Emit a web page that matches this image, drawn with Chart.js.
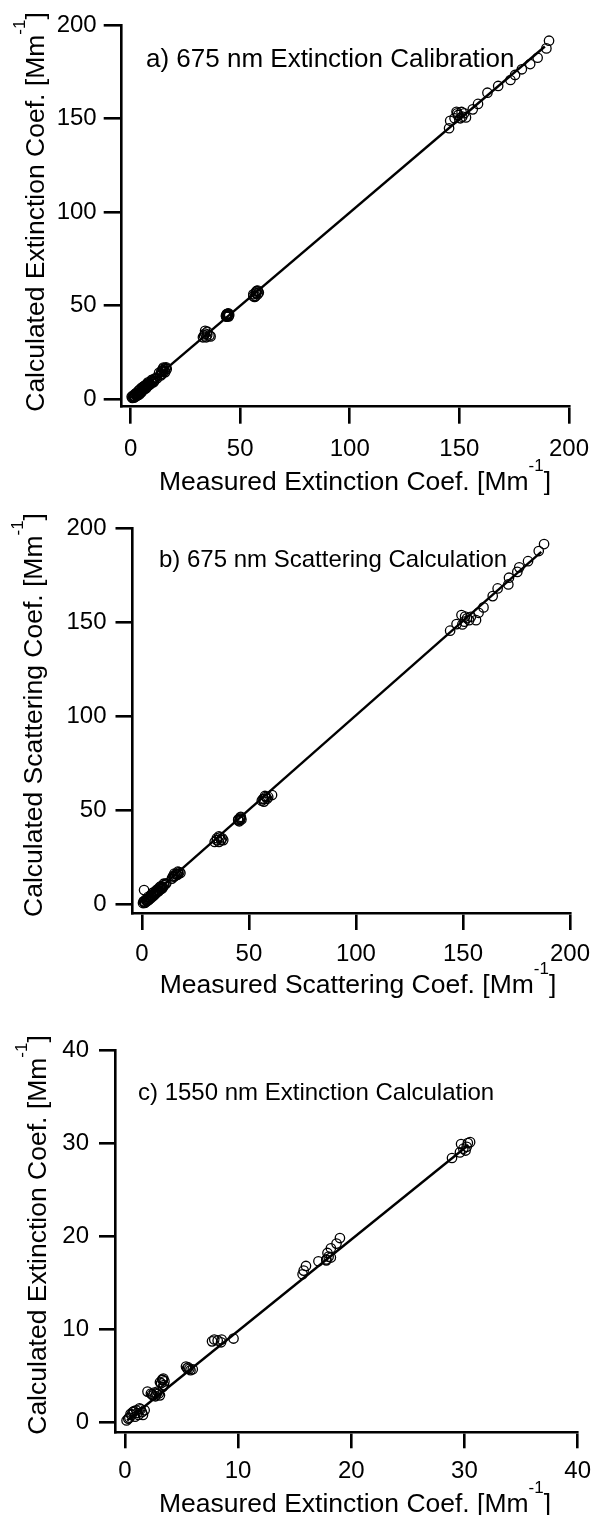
<!DOCTYPE html>
<html>
<head>
<meta charset="utf-8">
<script src="https://cdn.jsdelivr.net/npm/chart.js@4.4.0/dist/chart.umd.min.js"></script>
<style>
  html, body { margin: 0; padding: 0; background: #fff; }
  #wrap { position: relative; width: 600px; height: 1515px; }
  canvas { position: absolute; left: 0; }
</style>
</head>
<body>
<div id="wrap">
  <canvas id="chartA" width="600" height="498" style="top:0px"></canvas>
  <canvas id="chartB" width="600" height="502" style="top:498px"></canvas>
  <canvas id="chartC" width="600" height="515" style="top:1000px"></canvas>
</div>
<script>
// a) 675 nm extinction calibration: measured vs calculated
const measA = [0.8, 1.2, 1.5, 2.0, 2.3, 2.8, 3.0, 3.3, 3.8, 4.0, 4.3, 4.8, 5.0, 5.4, 5.8, 6.2, 6.5, 7.0, 7.3, 7.8,
  8.2, 8.6, 9.0, 9.4, 9.8, 10.2, 10.8, 11.4, 12.0, 1.0, 2.5, 5.0, 6.8, 3.5,
  0.5, 1.8, 2.2, 3.6, 4.5, 5.2, 6.0, 7.5, 8.8, 9.6, 10.5, 11.0, 2.9, 4.1, 6.4, 8.0, 1.4, 3.2, 5.6, 7.1,
  13.5, 14.0, 15.0, 16.0, 15.5, 14.5, 16.5, 13.0, 15.0, 14.2, 15.8, 16.2, 13.8, 14.8,
  33.0, 34.0, 35.0, 36.0, 36.5, 34.5, 33.5, 35.0, 34.0,
  43.5, 44.0, 44.5, 44.0, 45.0, 43.8, 44.3, 44.8, 43.6, 44.6, 44.1,
  56.0, 57.0, 58.0, 57.0, 58.5, 56.0, 58.0, 57.5, 56.6, 57.3,
  145.3, 145.8, 148.7, 149.5, 151.3, 152.2, 150.4, 147.8, 153.0, 149.0, 151.0,
  156.1, 158.5, 162.8, 167.7, 173.3, 175.4, 178.5, 182.3, 185.7, 189.7, 190.9];
const calcA = [0.6, 1.0, 1.6, 1.3, 2.0, 2.5, 1.8, 3.0, 3.2, 2.4, 4.0, 4.1, 3.6, 5.2, 4.8, 6.0, 5.4, 6.8, 6.2, 7.6,
  7.3, 8.4, 8.0, 9.4, 8.8, 10.0, 9.6, 11.2, 11.0, 1.8, 3.2, 6.0, 7.5, 2.4,
  1.2, 0.9, 2.8, 4.4, 3.4, 4.2, 6.8, 8.2, 7.8, 10.2, 9.0, 10.8, 1.9, 5.0, 7.0, 8.9, 0.8, 2.2, 6.4, 5.8,
  13.0, 14.5, 15.5, 16.5, 15.0, 13.5, 16.0, 14.0, 16.8, 15.2, 14.4, 17.0, 12.6, 16.2,
  33.0, 35.0, 36.0, 34.0, 33.5, 33.0, 34.0, 34.5, 36.5,
  44.5, 45.0, 45.5, 44.0, 45.0, 45.3, 44.6, 44.2, 44.1, 45.8, 45.6,
  56.0, 57.0, 58.0, 55.0, 57.0, 55.0, 56.0, 57.8, 54.6, 56.5,
  144.8, 148.8, 153.6, 151.9, 151.0, 152.8, 150.1, 150.1, 150.6, 152.8, 153.5,
  154.9, 157.8, 163.8, 167.4, 170.6, 173.3, 176.3, 179.1, 182.5, 187.5, 191.6];
const fitAx = [0.5, 189];
const fitAy = [0.5, 188.5];

// b) 675 nm scattering calculation
const measB = [0.5, 1.0, 1.5, 2.0, 2.4, 2.8, 3.2, 3.6, 4.0, 4.4, 4.8, 5.2, 5.6, 6.0, 6.4, 6.8, 7.2, 7.6, 8.0, 8.5,
  9.0, 9.4, 9.8, 10.4, 11.0, 11.4, 3.0, 5.0, 1.0,
  0.8, 1.8, 2.6, 3.4, 4.2, 5.4, 6.2, 7.0, 7.8, 8.8, 9.6, 10.2, 1.3, 4.6, 6.6, 8.2,
  14.0, 15.0, 16.0, 17.0, 18.0, 15.5, 16.5, 14.5, 17.5, 15.2, 16.8,
  34.0, 35.0, 36.0, 37.0, 38.0, 36.0, 35.0, 37.5, 36.5,
  45.0, 45.5, 46.0, 46.5, 45.0, 46.0, 45.8, 46.2,
  56.0, 57.0, 58.0, 57.0, 58.5, 60.8, 59.0, 57.5, 56.5,
  144.0, 147.0, 149.3, 149.7, 150.7, 151.9, 152.9, 153.7, 156.1, 151.0,
  157.3, 159.6, 163.9, 166.2, 171.2, 171.5, 175.4, 176.3, 180.4, 185.4, 187.9];
const calcB = [0.5, 1.2, 0.8, 1.8, 1.5, 2.6, 2.2, 3.4, 3.0, 4.2, 3.8, 5.0, 4.6, 5.8, 5.6, 6.6, 6.4, 7.4, 7.2, 8.2,
  8.0, 9.2, 9.0, 10.0, 10.6, 11.0, 3.8, 5.8, 7.4,
  1.4, 2.4, 1.9, 2.8, 4.8, 6.2, 5.2, 7.6, 6.8, 9.4, 8.4, 10.8, 0.6, 4.0, 7.0, 8.8,
  13.5, 14.5, 16.0, 16.0, 16.5, 15.0, 15.5, 14.8, 17.0, 16.2, 17.2,
  33.0, 35.0, 36.0, 34.0, 34.0, 33.0, 34.0, 35.0, 35.5,
  45.0, 44.0, 46.0, 45.0, 44.5, 45.5, 44.8, 46.4,
  55.0, 56.0, 57.0, 54.5, 56.0, 58.0, 57.0, 57.5, 55.8,
  145.5, 149.0, 153.8, 148.8, 150.3, 152.1, 151.1, 152.9, 151.1, 153.0,
  155.0, 157.9, 163.9, 168.0, 170.1, 173.7, 176.8, 179.2, 182.5, 187.9, 191.6];
const fitBx = [0.5, 186.6];
const fitBy = [0.5, 187.5];

// c) 1550 nm extinction calculation
const measC = [0.15, 0.6, 1.0, 1.5, 1.2, 1.6, 0.7, 0.9, 1.75, 1.3, 0.4, 1.1, 0.5, 0.8, 1.4, 0.3,
  2.0, 2.5, 2.8, 3.1, 2.3, 2.9, 2.6, 3.0, 2.7, 2.4,
  3.35, 3.2, 3.5, 3.35, 3.4, 3.1, 3.45, 3.3,
  5.5, 5.8, 5.4, 5.6, 6.0, 5.7,
  9.6, 7.7, 8.2, 8.5, 8.55, 7.9,
  15.7, 16.0, 15.8, 17.1, 17.8, 17.9, 18.2, 18.7, 19.0, 18.0, 18.2, 17.8,
  28.9, 29.6, 29.7, 30.1, 30.2, 30.3, 30.5, 29.9];
const calcC = [0.2, 0.8, 1.3, 1.1, 0.8, 0.8, 1.1, 0.6, 1.3, 1.5, 0.5, 1.0, 0.9, 1.2, 1.4, 0.4,
  3.3, 2.9, 3.1, 2.9, 3.1, 3.3, 3.2, 3.1, 2.8, 3.0,
  4.55, 4.2, 4.4, 3.8, 4.7, 4.3, 4.0, 4.6,
  5.8, 5.6, 6.0, 5.9, 5.7, 5.75,
  9.0, 8.7, 8.8, 8.6, 8.9, 8.9,
  15.9, 16.8, 16.3, 17.3, 17.5, 18.2, 18.7, 19.2, 19.8, 17.8, 17.7, 17.4,
  28.4, 29.0, 29.9, 29.2, 29.6, 30.0, 30.1, 29.4];
const fitCx = [0.2, 30.35];
const fitCy = [0.2, 29.8];

// tick labels
const ticks200 = [0, 50, 100, 150, 200];
const ticks40 = [0, 10, 20, 30, 40];

const FONT = "'Liberation Sans', Arial, Helvetica, sans-serif";
Chart.defaults.font.family = FONT;
Chart.defaults.color = '#000';

// draws text with a raised "-1" before the closing bracket
function drawSupTitle(ctx, t) {
  const big = t.size + 'px ' + FONT;
  const small = Math.round(t.size * 0.65) + 'px ' + FONT;
  ctx.save();
  ctx.translate(t.x, t.y);
  if (t.rotate) ctx.rotate(-Math.PI / 2);
  ctx.textAlign = 'left';
  ctx.textBaseline = 'alphabetic';
  ctx.font = big;
  const w1 = ctx.measureText(t.text).width;
  const w3 = ctx.measureText(']').width;
  ctx.font = small;
  const w2 = ctx.measureText('-1').width;
  let x = -(w1 + w2 + w3) / 2;
  ctx.font = big;
  ctx.fillText(t.text, x, 0);
  x += w1;
  ctx.font = small;
  ctx.fillText('-1', x, -t.size * 0.72);
  x += w2;
  ctx.font = big;
  ctx.fillText(']', x, 0);
  ctx.restore();
}

const panelText = {
  id: 'panelText',
  afterDraw(chart, args, opts) {
    const ctx = chart.ctx;
    ctx.save();
    ctx.fillStyle = '#000';
    ctx.font = opts.note.size + 'px ' + FONT;
    ctx.textAlign = 'left';
    ctx.textBaseline = 'alphabetic';
    ctx.fillText(opts.note.text, opts.note.x, opts.note.y);
    drawSupTitle(ctx, opts.xTitle);
    drawSupTitle(ctx, opts.yTitle);
    ctx.restore();
  }
};

function axis(min, max, vals, tickLen, pad, fit) {
  return {
    type: 'linear',
    min: min,
    max: max,
    afterBuildTicks: s => { s.ticks = vals.map(v => ({ value: v })); },
    afterFit: fit,
    border: { display: true, color: '#000', width: 2.6 },
    grid: { drawOnChartArea: false, drawTicks: true, tickLength: tickLen, color: '#000', lineWidth: 2.6 },
    ticks: { padding: pad, font: { size: 24 }, color: '#000', callback: v => String(v) },
    title: { display: false }
  };
}

function makePanel(id, p) {
  const canvas = document.getElementById(id);
  const H = canvas.height;
  return new Chart(canvas, {
    type: 'scatter',
    data: {
      datasets: [
        {
          data: p.x.map((v, i) => ({ x: v, y: p.y[i] })),
          pointStyle: 'circle',
          pointRadius: 4.7,
          pointBorderWidth: 1.3,
          pointBorderColor: '#000',
          pointBackgroundColor: 'rgba(0,0,0,0)'
        },
        {
          data: p.fitX.map((v, i) => ({ x: v, y: p.fitY[i] })),
          showLine: true,
          pointRadius: 0,
          borderColor: '#000',
          borderWidth: 2.4
        }
      ]
    },
    options: {
      responsive: false,
      animation: false,
      layout: { padding: { left: 0, top: p.area.top, right: 600 - p.area.right, bottom: 0 } },
      plugins: {
        legend: { display: false },
        tooltip: { enabled: false },
        panelText: p.text
      },
      scales: {
        x: axis(p.xMin, p.xMax, p.ticks, p.xTick, p.xPad, s => { s.height = H - p.area.bottom; }),
        y: axis(p.yMin, p.yMax, p.ticks, p.yTick, p.yPad, s => { s.width = p.area.left; })
      }
    },
    plugins: [panelText]
  });
}

makePanel('chartA', {
  x: measA, y: calcA, fitX: fitAx, fitY: fitAy, ticks: ticks200,
  area: { left: 121.7, top: 25, right: 574.7, bottom: 406.7 },
  xMin: -4.05, xMax: 200, yMin: -4.1, yMax: 200,
  xTick: 17, xPad: 11, yTick: 18, yPad: 7,
  text: {
    note: { text: 'a) 675 nm Extinction Calibration', size: 26, x: 146, y: 67 },
    xTitle: { text: 'Measured Extinction Coef. [Mm', size: 26.5, x: 355, y: 490 },
    yTitle: { text: 'Calculated Extinction Coef. [Mm', size: 26.5, x: 44, y: 212, rotate: true }
  }
});

makePanel('chartB', {
  x: measB, y: calcB, fitX: fitBx, fitY: fitBy, ticks: ticks200,
  area: { left: 132.5, top: 30.3, right: 574, bottom: 415 },
  xMin: -4.4, xMax: 200, yMin: -4.8, yMax: 200,
  xTick: 17, xPad: 10, yTick: 17, yPad: 9,
  text: {
    note: { text: 'b) 675 nm Scattering Calculation', size: 24, x: 159, y: 69 },
    xTitle: { text: 'Measured Scattering Coef. [Mm', size: 26.5, x: 358, y: 495 },
    yTitle: { text: 'Calculated Scattering Coef. [Mm', size: 26.5, x: 42, y: 217, rotate: true }
  }
});

makePanel('chartC', {
  x: measC, y: calcC, fitX: fitCx, fitY: fitCy, ticks: ticks40,
  area: { left: 115, top: 50, right: 583, bottom: 432.3 },
  xMin: -0.87, xMax: 40, yMin: -1.07, yMax: 40,
  xTick: 16, xPad: 9, yTick: 16, yPad: 10,
  text: {
    note: { text: 'c) 1550 nm Extinction Calculation', size: 24, x: 138, y: 100 },
    xTitle: { text: 'Measured Extinction Coef. [Mm', size: 26.5, x: 355, y: 512 },
    yTitle: { text: 'Calculated Extinction Coef. [Mm', size: 26.5, x: 46, y: 235, rotate: true }
  }
});
</script>
</body>
</html>
